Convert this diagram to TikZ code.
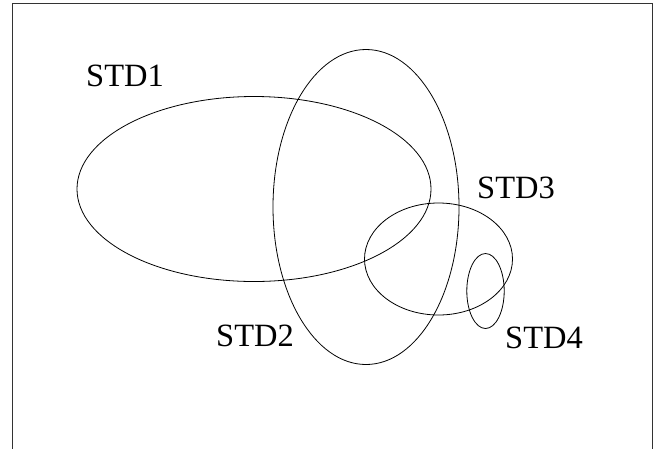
\documentclass[tikz,border=0pt]{standalone}
\usepackage{fontspec}
\setmainfont{Liberation Serif}
\usepackage{tikz}

\begin{document}
\begin{tikzpicture}[x=1pt,y=-1pt,
    lbl/.style={anchor=base west,inner sep=0pt,font=\fontsize{32.5}{39}\selectfont}]
    \useasboundingbox (0,0) rectangle (663,448);
    % frame
    \draw[line width=1pt,black!80] (12.7,470) -- (12.7,3.3) -- (652.7,3.3) -- (652.7,470);
    % sets
    \draw[line width=0.8pt] (254,189) ellipse [x radius=177,y radius=92.5];
    \draw[line width=0.8pt] (366,207) ellipse [x radius=93,y radius=157.5];
    \draw[line width=0.8pt] (438.5,259) ellipse [x radius=74,y radius=56];
    \draw[line width=0.8pt] (485.5,291) ellipse [x radius=18.7,y radius=37.5];
    % labels
    \node[lbl] (std1) at (86,86.7) {STD1};
    \node[lbl] (std2) at (216,346.7) {STD2};
    \node[lbl] (std3) at (477,198) {STD3};
    \node[lbl] (std4) at (505,348) {STD4};
\end{tikzpicture}
\end{document}
